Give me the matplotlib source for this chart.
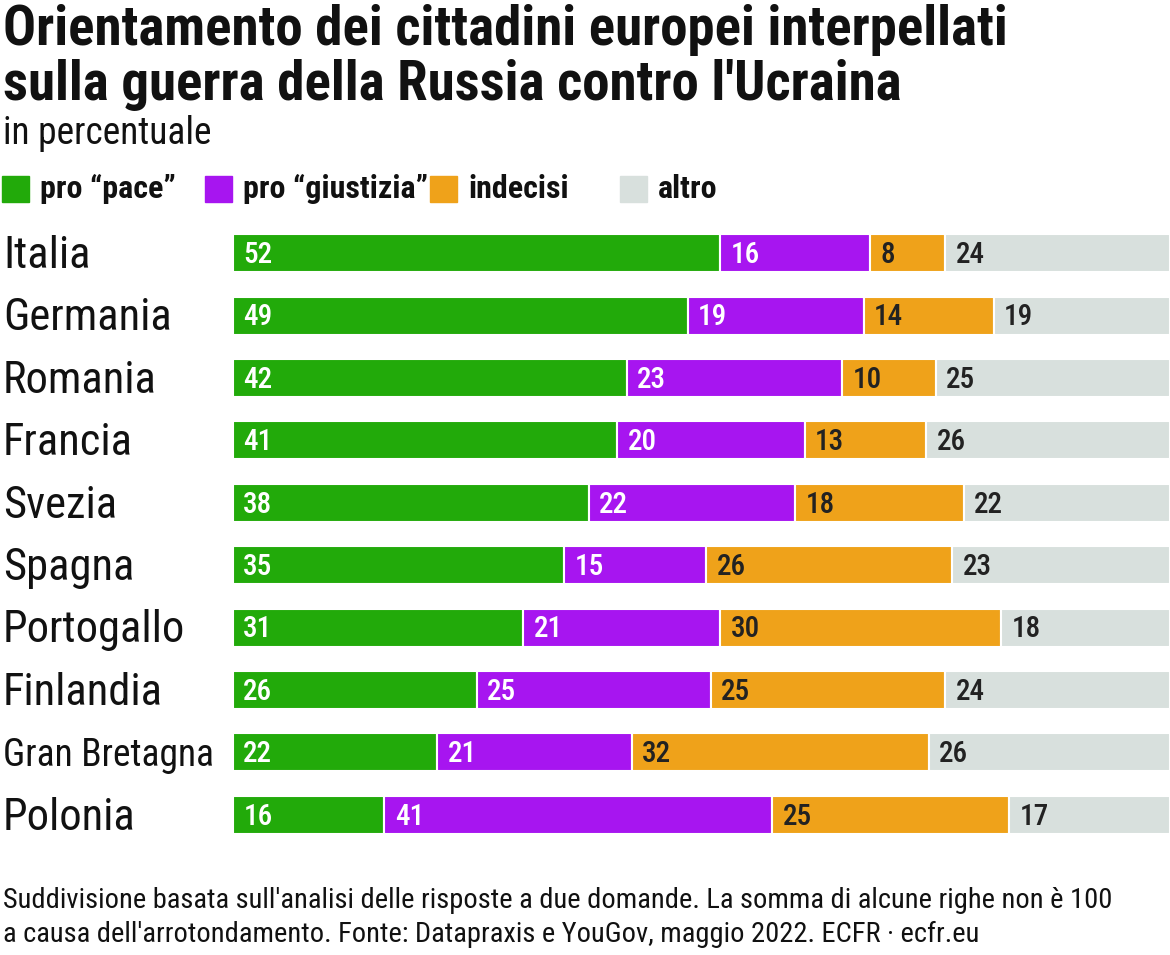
import matplotlib.pyplot as plt
from matplotlib.patches import Rectangle

countries = ["Italia", "Germania", "Romania", "Francia", "Svezia", "Spagna",
             "Portogallo", "Finlandia", "Gran Bretagna", "Polonia"]
pace = [52, 49, 42, 41, 38, 35, 31, 26, 22, 16]
giustizia = [16, 19, 23, 20, 22, 15, 21, 25, 21, 41]
indecisi = [8, 14, 10, 13, 18, 26, 30, 25, 32, 25]
altro = [24, 19, 25, 26, 22, 23, 18, 24, 26, 17]

series = [pace, giustizia, indecisi, altro]
labels = ["pro “pace”", "pro “giustizia”", "indecisi", "altro"]
colors = ["#22aa0a", "#a715f0", "#efa21a", "#d8e0dd"]
text_colors = ["white", "white", "#222222", "#222222"]

plt.rcParams['font.family'] = ['Roboto Condensed', 'Roboto', 'DejaVu Sans']

W, H = 1170, 955
fig = plt.figure(figsize=(W / 100, H / 100), dpi=100)
ax = fig.add_axes([233 / W, 1 - 846 / H, 1 - 233 / W, 624 / H])

# rows are scaled to fill the full width (some rows sum to 99 or 101)
totals = [sum(s[i] for s in series) for i in range(len(countries))]
y = list(range(len(countries)))
left = [0.0] * len(countries)
for vals, col, tcol in zip(series, colors, text_colors):
    widths = [v * 100 / t for v, t in zip(vals, totals)]
    ax.barh(y, widths, left=left, height=0.61, color=col, edgecolor="white", linewidth=1.5)
    for i, v in enumerate(vals):
        ax.text(left[i] + 1.1, i + 0.03, str(v), va="center", ha="left",
                fontsize=21, color=tcol, fontweight="medium")
    left = [l + w for l, w in zip(left, widths)]

ax.set_xlim(0, 100)
ax.set_ylim(len(countries) - 0.5, -0.5)
ax.axis("off")

for i, c in enumerate(countries):
    yy = 1 - (256 + 62.4 * i) / H
    fs = 27 if c == "Gran Bretagna" else 32
    fig.text(3 / W, yy, c, fontsize=fs, va="center", ha="left", color="#111111")

fig.text(3 / W, 1 - 45 / H, "Orientamento dei cittadini europei interpellati",
         fontsize=39.5, fontweight="bold", va="baseline", color="#111111")
fig.text(3 / W, 1 - 100 / H, "sulla guerra della Russia contro l'Ucraina",
         fontsize=39.5, fontweight="bold", va="baseline", color="#111111")
fig.text(3 / W, 1 - 133 / H, "in percentuale", fontsize=27, va="center", color="#111111")

# legend
sq_x = [2, 205, 415, 620]
renderer = fig.canvas.get_renderer()
prev_end = 0
for sx, lab, col in zip(sq_x, labels, colors):
    sx = max(sx, prev_end + 2)
    fig.patches.append(Rectangle((sx / W, 1 - 202 / H), 27 / W, 26 / H,
                                 transform=fig.transFigure, color=col))
    t = fig.text((sx + 38) / W, 1 - 189 / H, lab, fontsize=23, fontweight="bold",
                 va="center", ha="left", color="#111111")
    prev_end = t.get_window_extent(renderer).x1

fig.text(3 / W, 1 - 900 / H,
         "Suddivisione basata sull'analisi delle risposte a due domande. "
         "La somma di alcune righe non è 100",
         fontsize=20.5, va="center", color="#111111")
fig.text(3 / W, 1 - 934 / H,
         "a causa dell'arrotondamento. Fonte: Datapraxis e YouGov, maggio 2022. ECFR · ecfr.eu",
         fontsize=20.5, va="center", color="#111111")

fig.savefig("out.png", dpi=100, facecolor="white")
